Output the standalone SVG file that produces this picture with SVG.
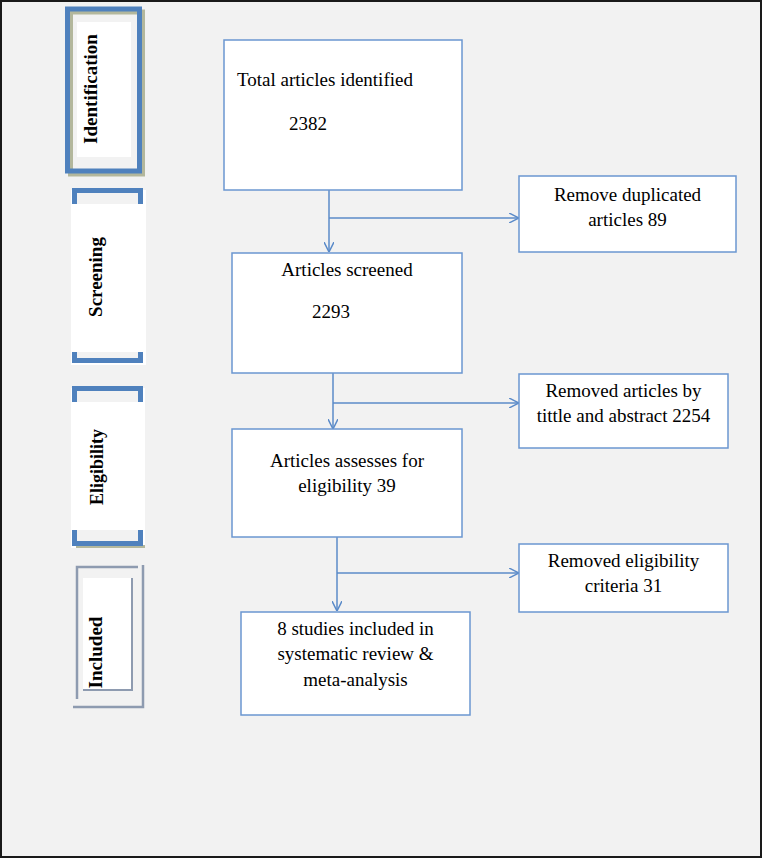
<svg xmlns="http://www.w3.org/2000/svg" width="762" height="858" viewBox="0 0 762 858">
<defs>
<style>
.box{fill:#fff;stroke:#6b97d1;stroke-width:1.5}
.t{font-family:"Liberation Serif","Times New Roman",serif;font-size:19px;fill:#000}
.m{text-anchor:middle}
.side{font-family:"Liberation Serif","Times New Roman",serif;font-size:19px;fill:#000;text-anchor:middle}
.b{font-weight:bold}
.conn{fill:none;stroke:#5b8bc9;stroke-width:1.5}
.blue{fill:none;stroke:#4f81bd;stroke-width:5}
.gray{fill:none;stroke:#8e9bb0;stroke-width:2.5}
</style>
<marker id="arr" viewBox="0 0 10 10" refX="10" refY="5" markerWidth="10" markerHeight="10" markerUnits="userSpaceOnUse" orient="auto">
<path d="M0,0 L10,5 L0,10" fill="none" stroke="#5b8bc9" stroke-width="1.5"/>
</marker>
</defs>
<rect x="1" y="1" width="760" height="856" fill="#f2f2f2" stroke="#1a1a1a" stroke-width="2"/>

<g id="phase-identification">
<rect x="70.5" y="12" width="72" height="162" fill="none" stroke="#b3b79c" stroke-width="5"/>
<rect x="67.5" y="9" width="72" height="162" class="blue"/>
<rect x="77" y="22" width="54" height="135" fill="#fff"/>
<text class="side b" transform="translate(97,89) rotate(-90)">Identification</text>
</g>

<g id="phase-screening">
<rect x="71" y="190" width="75" height="175" fill="#fff"/>
<rect x="77" y="193" width="61" height="11" fill="#f2f2f2"/>
<rect x="77" y="352" width="61" height="6" fill="#f2f2f2"/>
<path d="M74.5,204 V190.5 H140.5 V204" class="blue"/>
<path d="M74.5,352 V360.5 H140.5 V352" class="blue"/>
<text class="side b" transform="translate(102,277) rotate(-90)">Screening</text>
</g>

<g id="phase-eligibility">
<rect x="71" y="388" width="74" height="160" fill="#fff"/>
<rect x="76" y="545" width="69" height="3" fill="#b3b79c"/>
<rect x="77" y="391" width="61" height="11" fill="#f2f2f2"/>
<rect x="77" y="530" width="61" height="11" fill="#f2f2f2"/>
<path d="M74.5,402 V388.5 H140.5 V402" class="blue"/>
<path d="M74.5,530 V543.5 H140.5 V530" class="blue"/>
<text class="side b" style="font-size:18px" transform="translate(102.5,467) rotate(-90)">Eligibility</text>
</g>

<g id="phase-included">
<path d="M77,699 V567 H138" class="gray"/>
<path d="M73,707 H143 V565" class="gray"/>
<rect x="83" y="578" width="49" height="112" fill="#fff"/>
<path d="M132,578 V690 H83" fill="none" stroke="#8e9bb0" stroke-width="2"/>
<text class="side b" transform="translate(101.5,652.5) rotate(-90)">Included</text>
</g>

<g id="connectors">
<path d="M329,190 V252" class="conn" marker-end="url(#arr)"/>
<path d="M329,218 H519" class="conn" marker-end="url(#arr)"/>
<path d="M333,373 V429" class="conn" marker-end="url(#arr)"/>
<path d="M333,403 H519" class="conn" marker-end="url(#arr)"/>
<path d="M337,537 V611" class="conn" marker-end="url(#arr)"/>
<path d="M337,573 H519" class="conn" marker-end="url(#arr)"/>
</g>

<g id="n-identified">
<rect x="224" y="40" width="238" height="150" class="box"/>
<text class="t" x="237" y="86">Total articles identified</text>
<text class="t" x="289" y="130">2382</text>
</g>

<g id="n-duplicates">
<rect x="519" y="176" width="217" height="76" class="box"/>
<text class="t m" x="627.5" y="201">Remove duplicated</text>
<text class="t m" x="627.5" y="226">articles 89</text>
</g>

<g id="n-screened">
<rect x="232" y="253" width="230" height="120" class="box"/>
<text class="t m" x="347" y="276">Articles screened</text>
<text class="t" x="312" y="318">2293</text>
</g>

<g id="n-removed-title">
<rect x="519" y="374" width="209" height="74" class="box"/>
<text class="t m" x="623.5" y="397">Removed articles by</text>
<text class="t m" x="623.5" y="422">tittle and abstract 2254</text>
</g>

<g id="n-eligibility">
<rect x="232" y="429" width="230" height="108" class="box"/>
<text class="t m" x="347" y="467">Articles assesses for</text>
<text class="t m" x="347" y="492">eligibility 39</text>
</g>

<g id="n-removed-elig">
<rect x="519" y="544" width="209" height="68" class="box"/>
<text class="t m" x="623.5" y="567">Removed eligibility</text>
<text class="t m" x="623.5" y="592">criteria 31</text>
</g>

<g id="n-included">
<rect x="241" y="612" width="229" height="103" class="box"/>
<text class="t m" x="355.5" y="635">8 studies included in</text>
<text class="t m" x="355.5" y="660">systematic review &amp;</text>
<text class="t m" x="355.5" y="686">meta-analysis</text>
</g>
</svg>
